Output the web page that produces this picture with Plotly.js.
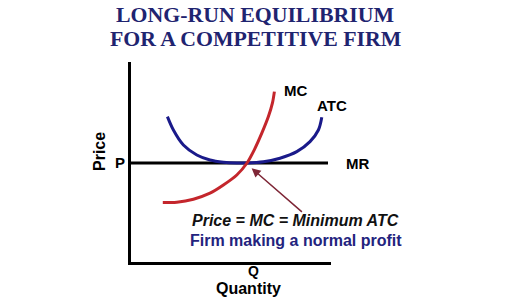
<!DOCTYPE html>
<html>
<head>
<meta charset="utf-8">
<script src="https://cdn.plot.ly/plotly-3.0.1.min.js"></script>
<style>
  html, body { margin: 0; padding: 0; background: #ffffff; }
  #chart { width: 506px; height: 307px; }
</style>
</head>
<body>
<div id="chart"></div>
<script>
// Long-run equilibrium of a competitive firm: price line (MR), ATC and MC curves.
const priceLevel = 4.95;          // P: market price = MR
const mrX = [0, 9.85];
const mrY = [priceLevel, priceLevel];

const atcX = [1.82, 2.12, 2.62, 3.29, 3.95, 4.62, 5.29, 5.8, 6.62, 7.45, 8.29, 8.95, 9.37, 9.54];
const atcY = [7.27, 6.60, 5.85, 5.35, 5.10, 4.99, 4.95, 4.95, 5.01, 5.19, 5.52, 6.02, 6.60, 7.24];

const mcX = [1.59, 2.29, 3.12, 3.95, 4.62, 5.29, 5.8, 6.17, 6.54, 6.87, 7.07, 7.17];
const mcY = [2.97, 2.99, 3.14, 3.44, 3.85, 4.35, 4.95, 5.62, 6.44, 7.27, 7.94, 8.52];

const pTickText = ['P'];

const navy = '#1f2470';
const sans = 'Liberation Sans, Arial, sans-serif';
const serif = 'Liberation Serif, Times New Roman, serif';

const traces = [
  { x: mrX, y: mrY, mode: 'lines', line: { color: '#000000', width: 3 }, name: 'MR', hoverinfo: 'skip' },
  { x: atcX, y: atcY, mode: 'lines', line: { color: '#1a1a8a', width: 3, shape: 'spline', smoothing: 0.9 }, name: 'ATC', hoverinfo: 'skip' },
  { x: mcX, y: mcY, mode: 'lines', line: { color: '#c4262c', width: 3, shape: 'spline', smoothing: 0.8 }, name: 'MC', hoverinfo: 'skip' }
];

// Text placed relative to the plotting area (paper units may run past 0..1).
function label(text, x, y, size, extra) {
  return Object.assign({
    text: text, x: x, y: y, xref: 'paper', yref: 'paper', showarrow: false,
    xanchor: 'center', yanchor: 'middle',
    font: { family: sans, size: size, color: '#000000', weight: 'bold' }
  }, extra || {});
}

const layout = {
  width: 506,
  height: 307,
  margin: { l: 131, r: 175, t: 62, b: 45 },
  paper_bgcolor: '#ffffff',
  plot_bgcolor: '#ffffff',
  showlegend: false,
  title: {
    text: 'LONG-RUN EQUILIBRIUM',
    x: 255 / 506, xref: 'container', xanchor: 'center',
    y: 1 - 14 / 307, yref: 'container', yanchor: 'middle',
    font: { family: serif, size: 21.8, color: navy, weight: 'bold' }
  },
  xaxis: {
    range: [0, 10], showgrid: false, zeroline: false,
    showline: true, linecolor: '#000000', linewidth: 3,
    ticks: '', showticklabels: false,
    fixedrange: true
  },
  yaxis: {
    range: [0, 10], showgrid: false, zeroline: false,
    showline: true, linecolor: '#000000', linewidth: 3,
    ticks: '', tickvals: [priceLevel], ticktext: pTickText,
    tickfont: { family: sans, size: 15, color: '#000000', weight: 'bold' },
    fixedrange: true
  },
  annotations: [
    {
      text: 'FOR A COMPETITIVE FIRM', xref: 'paper', yref: 'paper',
      x: 0.62, y: (307 - 45 - 39) / 200, xanchor: 'center', yanchor: 'middle', showarrow: false,
      font: { family: serif, size: 21.8, color: navy, weight: 'bold' }
    },
    label('MC', 0.82, 0.86, 15),
    label('ATC', 1.0025, 0.785, 15),
    label('MR', 1.1325, 0.495, 15),
    label('Price', -0.16, 0.55, 16, { textangle: -90 }),
    label('Q', 0.61, -0.045, 14),
    label('Quantity', 0.585, -0.13, 16),
    label('Price = MC = Minimum ATC', 0.82, 0.21, 16, {
      font: { family: sans, size: 16, color: '#111111', weight: 'bold', style: 'italic' }
    }),
    label('Firm making a normal profit', 0.823, 0.107, 16, {
      font: { family: sans, size: 16, color: '#23237e', weight: 'bold' }
    }),
    {
      text: '', x: 6.03, y: 4.69, xref: 'x', yref: 'y',
      ax: 8.62, ay: 2.44, axref: 'x', ayref: 'y',
      showarrow: true, arrowhead: 2, arrowsize: 1.2, arrowwidth: 1.5, arrowcolor: '#7e2636'
    }
  ]
};

Plotly.newPlot('chart', traces, layout, { displayModeBar: false, staticPlot: true });
</script>
</body>
</html>
